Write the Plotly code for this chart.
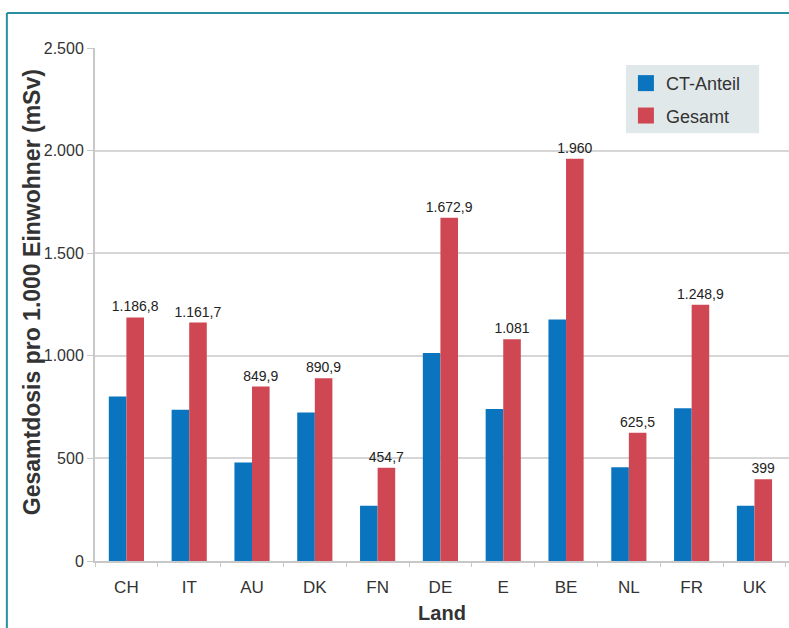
import plotly.graph_objects as go

countries = ["CH", "IT", "AU", "DK", "FN", "DE", "E", "BE", "NL", "FR", "UK"]
ct_anteil = [802, 737, 480, 724, 269, 1014, 741, 1177, 457, 744, 269]
gesamt = [1186.8, 1161.7, 849.9, 890.9, 454.7, 1672.9, 1081, 1960, 625.5, 1248.9, 399]
gesamt_labels = ["1.186,8", "1.161,7", "849,9", "890,9", "454,7", "1.672,9",
                 "1.081", "1.960", "625,5", "1.248,9", "399"]
y_tickvals = [0, 500, 1000, 1500, 2000, 2500]
y_ticktext = ["0", "500", "1.000", "1.500", "2.000", "2.500"]
y_title = "Gesamtdosis pro 1.000 Einwohner (mSv)"
x_title = "Land"

BLUE = "#0b74bf"
RED = "#cf4753"
FONT = "Liberation Sans, Arial, sans-serif"

fig = go.Figure()
fig.add_trace(go.Bar(name="CT-Anteil", x=countries, y=ct_anteil, showlegend=False,
                     marker=dict(color=BLUE, line=dict(width=0))))
fig.add_trace(go.Bar(name="Gesamt", x=countries, y=gesamt, showlegend=False,
                     marker=dict(color=RED, line=dict(width=0)),
                     text=gesamt_labels, textposition="outside", constraintext="none",
                     textfont=dict(size=14, color="#222", family=FONT),
                     cliponaxis=False))
# legend entries (square swatches)
fig.add_trace(go.Scatter(name="CT-Anteil", x=[None], y=[None], mode="markers",
                         legendgroup="a",
                         marker=dict(symbol="square", size=16, color=BLUE)))
fig.add_trace(go.Scatter(name="Gesamt", x=[None], y=[None], mode="markers",
                         legendgroup="b",
                         marker=dict(symbol="square", size=16, color=RED)))

fig.update_layout(
    width=789, height=628,
    margin=dict(l=95, r=0, t=48, b=67),
    paper_bgcolor="white", plot_bgcolor="white",
    barmode="group", bargap=0.44, bargroupgap=0,
    font=dict(family=FONT, color="#333"),
    showlegend=True,
    legend=dict(x=0.765, y=0.967, xanchor="left", yanchor="top",
                bgcolor="rgba(0,0,0,0)", borderwidth=0,
                font=dict(size=18, color="#333"),
                traceorder="grouped", tracegroupgap=6,
                itemwidth=30),
    xaxis=dict(range=[-0.5, 10.55], showline=True, linecolor="#c8c8c8", linewidth=2,
               ticks="outside", tickson="boundaries", ticklen=4, tickcolor="#c8c8c8",
               ticklabelstandoff=10,
               tickfont=dict(size=17, color="#333"),
               title=dict(text="<b>" + x_title + "</b>", font=dict(size=20, color="#333"),
                          standoff=10)),
    yaxis=dict(range=[0, 2500], tickvals=y_tickvals, ticktext=y_ticktext,
               showline=True, linecolor="#c8c8c8", linewidth=2,
               ticks="outside", ticklen=6, tickcolor="#c8c8c8",
               gridcolor="#d6d6d6", gridwidth=2, zeroline=False,
               tickfont=dict(size=16, color="#333")),
    annotations=[
        dict(text="<b>" + y_title + "</b>", xref="paper", yref="paper",
             x=-0.0908, y=0.524, textangle=-90, showarrow=False,
             xanchor="center", yanchor="middle",
             font=dict(size=23, color="#333", family=FONT)),
    ],
    shapes=[
        dict(type="line", xref="paper", yref="paper",
             x0=-0.127, x1=1.0, y0=1.068, y1=1.068,
             line=dict(color="#2a8fa0", width=2)),
        dict(type="line", xref="paper", yref="paper",
             x0=-0.127, x1=-0.127, y0=1.068, y1=-0.2,
             line=dict(color="#2a8fa0", width=2)),
        dict(type="rect", xref="paper", yref="paper", layer="above",
             x0=0.765, x1=0.957, y0=0.834, y1=0.967,
             fillcolor="#e1e8ea", line=dict(width=0)),
    ],
)

fig.write_html("out.html")
